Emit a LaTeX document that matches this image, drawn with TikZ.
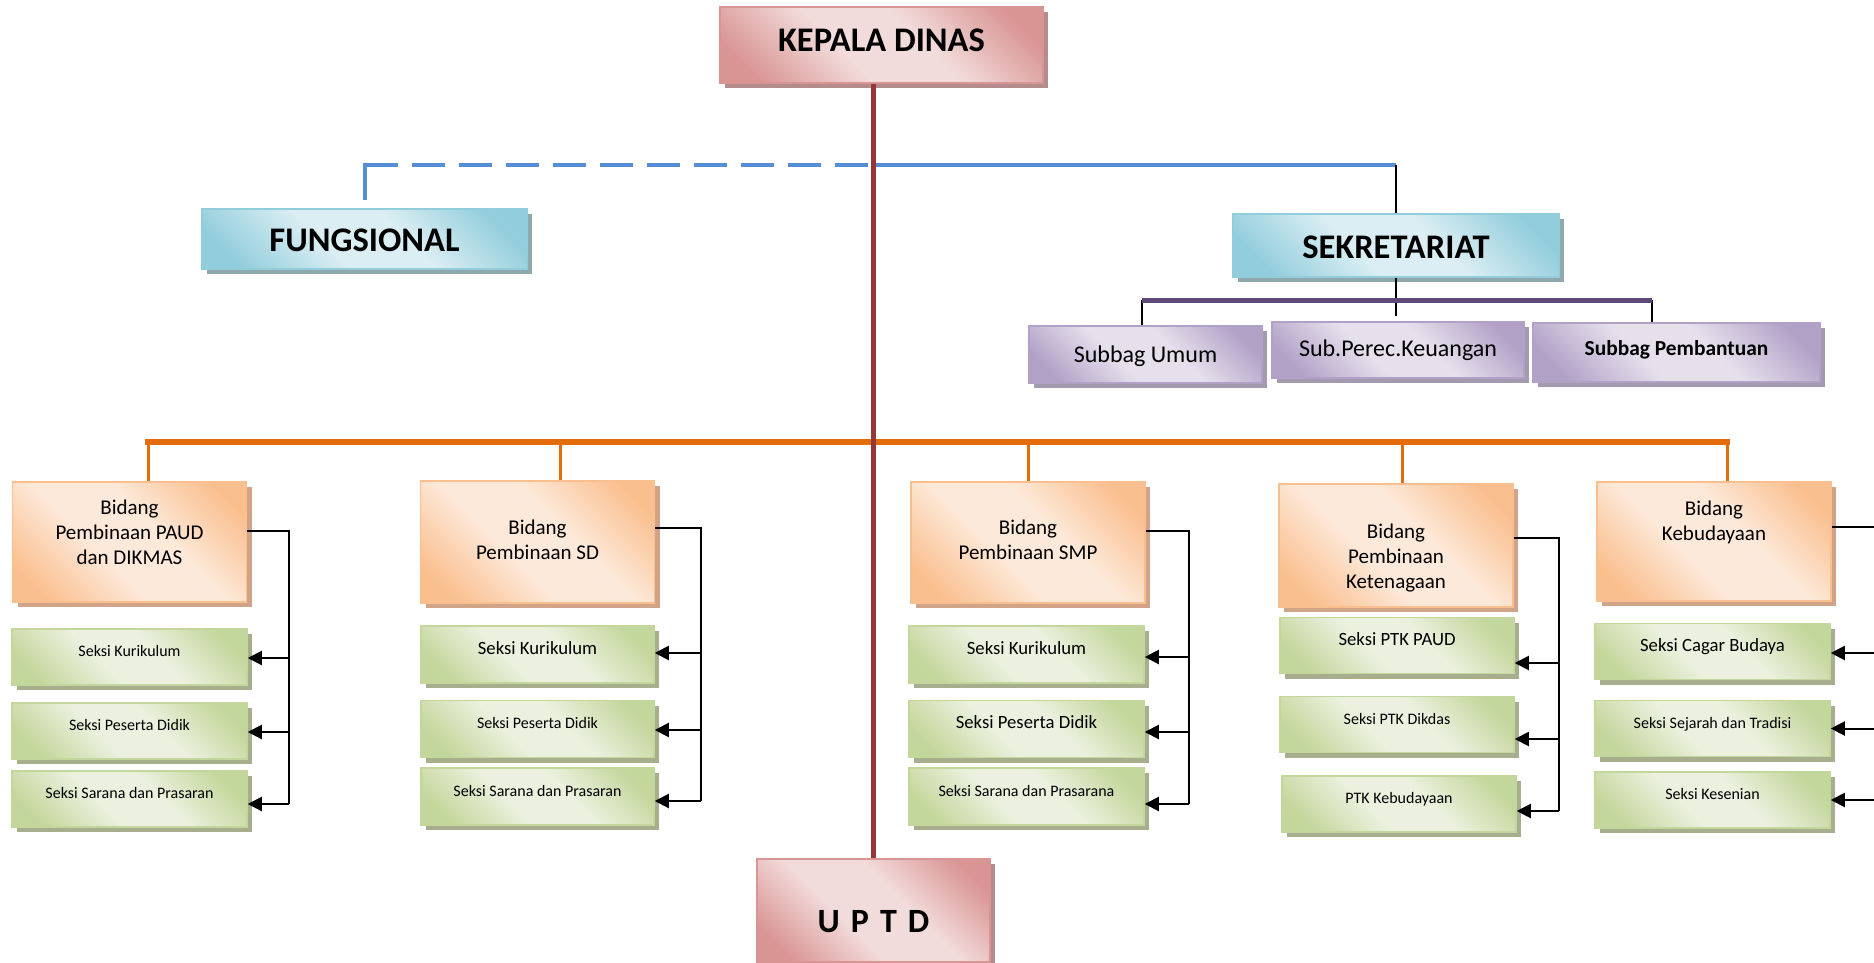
\documentclass[tikz,border=0pt]{standalone}
\usepackage{fontspec}
\setmainfont{Carlito}
\usepackage{tikz}
\usetikzlibrary{calc}
\usetikzlibrary{positioning}
\usetikzlibrary{shadows}
\usetikzlibrary{arrows.meta}

\definecolor{redD}{HTML}{D99594}
\definecolor{redL}{HTML}{F2DCDB}
\definecolor{redS}{HTML}{B48C8C}
\definecolor{blueD}{HTML}{92CDDC}
\definecolor{blueL}{HTML}{DBEEF3}
\definecolor{blueS}{HTML}{8FA8AE}
\definecolor{oraD}{HTML}{FABF8F}
\definecolor{oraL}{HTML}{FDE9D9}
\definecolor{oraS}{HTML}{D2A487}
\definecolor{grnD}{HTML}{C3D69B}
\definecolor{grnL}{HTML}{EBF1DE}
\definecolor{grnS}{HTML}{A6AE8E}
\definecolor{purD}{HTML}{B2A1C7}
\definecolor{purL}{HTML}{E5E0EC}
\definecolor{purS}{HTML}{A49AB0}
\definecolor{trunkred}{HTML}{953735}
\definecolor{funcblue}{HTML}{558ED5}
\definecolor{secpurple}{HTML}{5F497A}
\definecolor{bidorange}{HTML}{E46C0A}

\pgfdeclarehorizontalshading{redband}{100bp}{color(0bp)=(redD); color(22bp)=(redD); color(42bp)=(redL); color(58bp)=(redL); color(78bp)=(redD); color(100bp)=(redD)}
\pgfdeclarehorizontalshading{blueband}{100bp}{color(0bp)=(blueD); color(22bp)=(blueD); color(42bp)=(blueL); color(58bp)=(blueL); color(78bp)=(blueD); color(100bp)=(blueD)}
\pgfdeclarehorizontalshading{oraband}{100bp}{color(0bp)=(oraD); color(22bp)=(oraD); color(42bp)=(oraL); color(58bp)=(oraL); color(78bp)=(oraD); color(100bp)=(oraD)}
\pgfdeclarehorizontalshading{grnband}{100bp}{color(0bp)=(grnD); color(22bp)=(grnD); color(42bp)=(grnL); color(58bp)=(grnL); color(78bp)=(grnD); color(100bp)=(grnD)}
\pgfdeclarehorizontalshading{purband}{100bp}{color(0bp)=(purD); color(22bp)=(purD); color(42bp)=(purL); color(58bp)=(purL); color(78bp)=(purD); color(100bp)=(purD)}

\tikzset{
  box/.style={shade, shading angle=45, line width=1.5pt, inner sep=0pt, align=center, text=black},
  redbox/.style={box, draw=redD, shading=redband, drop shadow={shadow xshift=5pt, shadow yshift=-5pt, fill=redS, opacity=1}},
  bluebox/.style={box, draw=blueD, shading=blueband, drop shadow={shadow xshift=5pt, shadow yshift=-5pt, fill=blueS, opacity=1}},
  orabox/.style={box, draw=oraD, shading=oraband, drop shadow={shadow xshift=5pt, shadow yshift=-5pt, fill=oraS, opacity=1}},
  grnbox/.style={box, draw=grnD, shading=grnband, drop shadow={shadow xshift=5pt, shadow yshift=-5pt, fill=grnS, opacity=1}},
  purbox/.style={box, draw=purD, shading=purband, drop shadow={shadow xshift=5pt, shadow yshift=-5pt, fill=purS, opacity=1}},
  head/.style={font=\bfseries\fontsize{34.5}{40}\selectfont, text height=25pt, text depth=0pt},
  bidang/.style={orabox, minimum width=234pt, font=\fontsize{21}{25}\selectfont},
  seksi/.style={grnbox, minimum height=56pt, font=\fontsize{16}{19}\selectfont, text height=10pt, text depth=11pt},
  seksibig/.style={seksi, font=\fontsize{18.7}{22}\selectfont},
  subbag/.style={purbox, font=\fontsize{24}{28}\selectfont, text height=16pt, text depth=0pt},
  link/.style={black, line width=2pt},
  arr/.style={link, -{Triangle[length=14pt,width=14pt]}},
  trunk/.style={trunkred, line width=5pt},
  fdash/.style={funcblue, line width=4pt, dash pattern=on 33pt off 14pt},
  fsolid/.style={funcblue, line width=4pt},
  pbar/.style={secpurple, line width=5pt},
  obar/.style={bidorange, line width=6pt, line cap=rect},
  odrop/.style={bidorange, line width=3pt}
}

\begin{document}
\begin{tikzpicture}[x=1pt, y=-1pt]
  \useasboundingbox[fill=white] (0,0) rectangle (1874,963);
  \clip (0,0) rectangle (1874,963);

  % pimpinan
  \node[redbox, head, text depth=12pt, minimum width=323pt, minimum height=76pt] (kepala) at (881.5,45) {KEPALA DINAS};
  \node[bluebox, head, minimum width=325pt, minimum height=60pt] (fung) at (364.5,239) {FUNGSIONAL};
  \node[bluebox, head, minimum width=326pt, minimum height=63pt] (sekre) at (1396,245.5) {SEKRETARIAT};
  \node[redbox, font=\bfseries\fontsize{34}{40}\selectfont, text height=44pt, text depth=0pt, minimum width=233pt, minimum height=103pt] (uptd) at (873.5,910.5) {\spaceskip=11pt\relax U P T D};

  % subbagian
  \node[subbag, minimum width=233pt, minimum height=57pt] (sUmum) at (1145.5,354.5) {Subbag Umum};
  \node[subbag, text depth=4pt, minimum width=252pt, minimum height=56pt] (sPerec) at (1398,350) {Sub.Perec.Keuangan};
  \node[subbag, font=\bfseries\fontsize{21.4}{26}\selectfont, text depth=11pt, minimum width=287pt, minimum height=59pt] (sPemb) at (1676.5,352.5) {Subbag Pembantuan};

  % bidang
  \node[bidang, minimum height=120pt, text height=58pt, text depth=14pt] (bPaud) at (129.5,542) {Bidang\\Pembinaan PAUD\\dan DIKMAS};
  \node[bidang, minimum height=122pt, text height=48pt, text depth=14pt] (bSd) at (537.5,542) {Bidang\\Pembinaan SD};
  \node[bidang, minimum height=121pt, text height=47pt, text depth=14pt] (bSmp) at (1028,542.5) {Bidang\\Pembinaan SMP};
  \node[bidang, minimum height=123pt, text height=100pt, text depth=14pt] (bKet) at (1396,545.5) {Bidang\\Pembinaan\\Ketenagaan};
  \node[bidang, minimum height=119pt, text height=14pt, text depth=17pt] (bKeb) at (1714,541.5) {Bidang\\Kebudayaan};

  % seksi
  \node[seksi, minimum width=235pt] (sPaud1) at (129.5,657) {Seksi Kurikulum};
  \node[seksi, minimum width=235pt] (sPaud2) at (129.5,731) {Seksi Peserta Didik};
  \node[seksi, minimum width=235pt] (sPaud3) at (129.5,799) {Seksi Sarana dan Prasaran};
  \node[seksibig, minimum width=233pt, minimum height=57pt] (sSd1) at (537.5,654.5) {Seksi Kurikulum};
  \node[seksi, minimum width=233pt, minimum height=57pt] (sSd2) at (537.5,729) {Seksi Peserta Didik};
  \node[seksi, minimum width=233pt, minimum height=57pt] (sSd3) at (537.5,796.5) {Seksi Sarana dan Prasaran};
  \node[seksibig, minimum width=235pt, minimum height=57pt] (sSmp1) at (1026.5,654.5) {Seksi Kurikulum};
  \node[seksibig, minimum width=235pt, minimum height=57pt] (sSmp2) at (1026.5,729) {Seksi Peserta Didik};
  \node[seksi, minimum width=235pt, minimum height=57pt] (sSmp3) at (1026.5,796.5) {Seksi Sarana dan Prasarana};
  \node[seksibig, minimum width=234pt] (sKet1) at (1397,645.5) {Seksi PTK PAUD};
  \node[seksi, minimum width=234pt] (sKet2) at (1397,724.5) {Seksi PTK Dikdas};
  \node[seksi, minimum width=234pt] (sKet3) at (1399,804) {PTK Kebudayaan};
  \node[seksibig, minimum width=235pt] (sKeb1) at (1712.5,651.5) {Seksi Cagar Budaya};
  \node[seksi, minimum width=235pt] (sKeb2) at (1712.5,728.5) {Seksi Sejarah dan Tradisi};
  \node[seksi, minimum width=235pt] (sKeb3) at (1712.5,800) {Seksi Kesenian};

  % garis fungsional dan sekretariat
  \coordinate (jct) at (873,165);
  \coordinate (fcorner) at (fung.north |- jct);
  \draw[fdash] (fcorner) -- (jct);
  \draw[fsolid, line cap=rect, shorten <=10pt] (fung.north) -- (fcorner);
  \draw[fsolid] (jct) -- (jct -| sekre.north);
  \draw[link] (jct -| sekre.north) -- (sekre.north);

  \coordinate (pL) at (1142,300);
  \coordinate (pR) at (1652,300);
  \draw[link] (sekre.south) -- ($(sekre.south |- sPerec.north)+(0,-5)$);
  \draw[link] (pL) -- (pL |- sUmum.north);
  \draw[link] (pR) -- (pR |- sPemb.north);
  \draw[pbar] (pL) -- (pR);

  % garis bidang
  \coordinate (o1) at (148,442);
  \coordinate (o2) at (560,442);
  \coordinate (o3) at (1028,442);
  \coordinate (o4) at (1402,442);
  \coordinate (o5) at (1727,442);
  \draw[obar] (o1) -- (o5);
  \draw[odrop] (o1) -- (o1 |- bPaud.north);
  \draw[odrop] (o2) -- (o2 |- bSd.north);
  \draw[odrop] (o3) -- (o3 |- bSmp.north);
  \draw[odrop] (o4) -- (o4 |- bKet.north);
  \draw[odrop] (o5) -- (o5 |- bKeb.north);

  \draw[trunk] (uptd.north) -- (uptd.north |- kepala.south);

  % seksi per bidang
  \coordinate (busPaud) at (289,804);
  \draw[link] ($(bPaud.east)+(0,-11)$) -| (busPaud);
  \draw[arr] ($(sPaud1.east -| busPaud)+(0,1)$) -- ($(sPaud1.east)+(0,1)$);
  \draw[arr] ($(sPaud2.east -| busPaud)+(0,1)$) -- ($(sPaud2.east)+(0,1)$);
  \draw[arr] ($(sPaud3.east -| busPaud)+(0,5)$) -- ($(sPaud3.east)+(0,5)$);

  \coordinate (busSd) at (701,801);
  \draw[link] ($(bSd.east)+(0,-14)$) -| (busSd);
  \draw[arr] ($(sSd1.east -| busSd)+(0,-1.5)$) -- ($(sSd1.east)+(0,-1.5)$);
  \draw[arr] ($(sSd2.east -| busSd)+(0,1)$) -- ($(sSd2.east)+(0,1)$);
  \draw[arr] ($(sSd3.east -| busSd)+(0,4.5)$) -- ($(sSd3.east)+(0,4.5)$);

  \coordinate (busSmp) at (1189,804);
  \draw[link] ($(bSmp.east)+(0,-11.5)$) -| (busSmp);
  \draw[arr] ($(sSmp1.east -| busSmp)+(0,2.5)$) -- ($(sSmp1.east)+(0,2.5)$);
  \draw[arr] ($(sSmp2.east -| busSmp)+(0,3)$) -- ($(sSmp2.east)+(0,3)$);
  \draw[arr] ($(sSmp3.east -| busSmp)+(0,7.5)$) -- ($(sSmp3.east)+(0,7.5)$);

  \coordinate (busKet) at (1559,811);
  \draw[link] ($(bKet.east)+(0,-7.5)$) -| (busKet);
  \draw[arr] ($(sKet1.east -| busKet)+(0,17.5)$) -- ($(sKet1.east)+(0,17.5)$);
  \draw[arr] ($(sKet2.east -| busKet)+(0,14.5)$) -- ($(sKet2.east)+(0,14.5)$);
  \draw[arr] ($(sKet3.east -| busKet)+(0,7)$) -- ($(sKet3.east)+(0,7)$);

  \coordinate (busKeb) at (1890,800);
  \draw[link] ($(bKeb.east)+(0,-14.5)$) -| (busKeb);
  \draw[arr] ($(sKeb1.east -| busKeb)+(0,1.5)$) -- ($(sKeb1.east)+(0,1.5)$);
  \draw[arr] (sKeb2.east -| busKeb) -- (sKeb2.east);
  \draw[arr] (sKeb3.east -| busKeb) -- (sKeb3.east);
\end{tikzpicture}
\end{document}
